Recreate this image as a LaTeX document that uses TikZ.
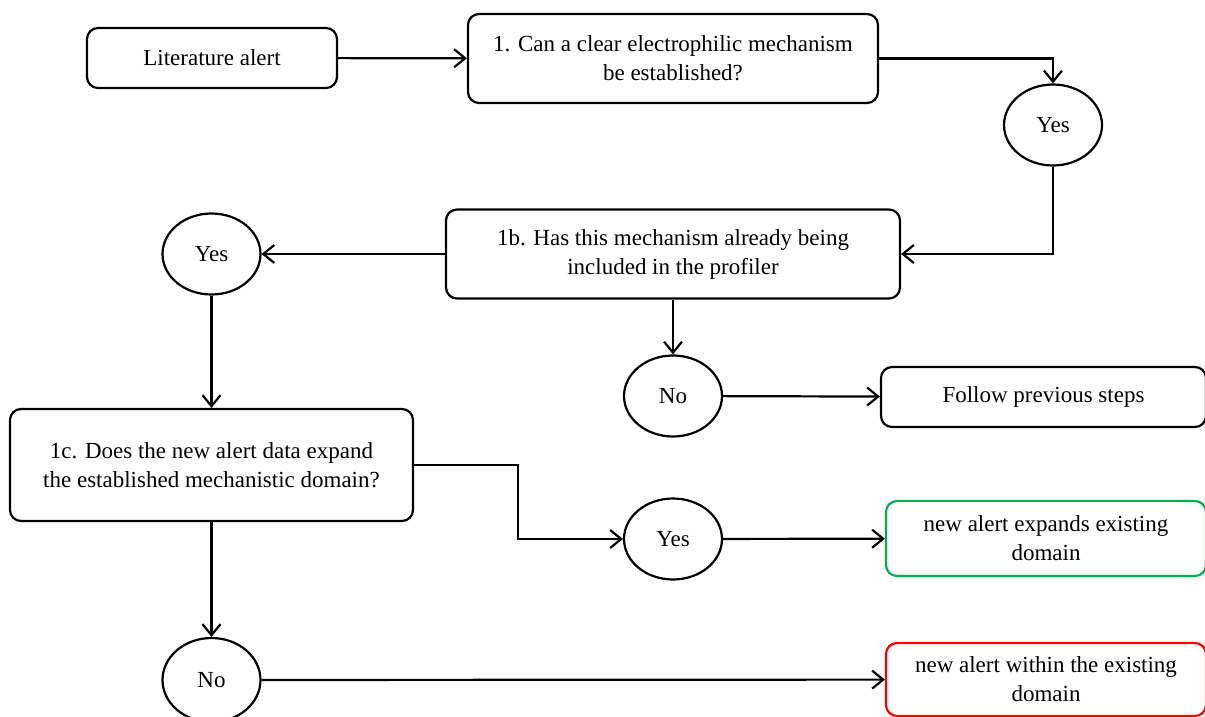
\documentclass[tikz,border=0pt]{standalone}
\usepackage{fontspec}
\setmainfont{Liberation Serif}
\usetikzlibrary{arrows.meta,shapes.geometric}
\definecolor{okgreen}{RGB}{0,176,80}
\definecolor{alertred}{RGB}{255,0,0}

\begin{document}
\begin{tikzpicture}[x=1pt,y=1pt,yscale=-1,xscale=1,
  every node/.style={font=\fontsize{23}{29}\selectfont, align=center, inner sep=0pt},
  stepbox/.style={draw, line width=2.2pt, rounded corners=11pt},
  answer/.style={draw, ellipse, line width=2.2pt, minimum width=98pt, minimum height=81pt},
  flow/.style={line width=2.2pt, -{Straight Barb[length=11pt,width=18pt,line width=2.2pt]}}]
\useasboundingbox (0,0) rectangle (1205,717);

% Text Node
\node[stepbox, minimum width=250pt, minimum height=60pt] (lit) at (212,58) {Literature alert};
% Text Node
\node[stepbox, minimum width=410pt, minimum height=89pt] (q1) at (673,58.5) {1. Can a clear electrophilic mechanism\\be established?};
% Text Node
\node[answer] (yes1) at (1053,125) {Yes};
% Text Node
\node[stepbox, minimum width=454pt, minimum height=89pt] (q1b) at (673,254) {1b. Has this mechanism already being\\included in the profiler};
% Text Node
\node[answer] (yes2) at (211.5,254) {Yes};
% Text Node
\node[answer] (no1) at (673,396) {No};
% Text Node
\node[stepbox, minimum width=325pt, minimum height=60pt] (follow) at (1043.5,397) {Follow previous steps};
% Text Node
\node[stepbox, minimum width=403pt, minimum height=112pt] (q1c) at (211.5,465) {1c. Does the new alert data expand\\the established mechanistic domain?};
% Text Node
\node[answer] (yes3) at (673,539) {Yes};
% Text Node
\node[stepbox, draw=okgreen, minimum width=320pt, minimum height=75pt] (expand) at (1046,538.5) {new alert expands existing\\domain};
% Text Node
\node[answer, minimum height=84pt] (no2) at (211.5,680) {No};
% Text Node
\node[stepbox, draw=alertred, minimum width=320pt, minimum height=73pt] (within) at (1046,679.5) {new alert within the existing\\domain};

%Straight Lines
\coordinate (bend) at (518,500);
\draw[flow] (lit) -- (q1);
\draw[flow] (q1.east) -| (yes1);
\draw[flow] (yes1) |- (q1b);
\draw[flow] (q1b) -- (yes2);
\draw[flow] (yes2) -- (q1c);
\draw[flow] (q1b) -- (no1);
\draw[flow] (no1) -- (follow);
\draw[flow] (q1c.east) -| (bend) |- (yes3);
\draw[flow] (yes3) -- (expand);
\draw[flow] (q1c) -- (no2);
\draw[flow] (no2) -- (within);

\end{tikzpicture}
\end{document}
